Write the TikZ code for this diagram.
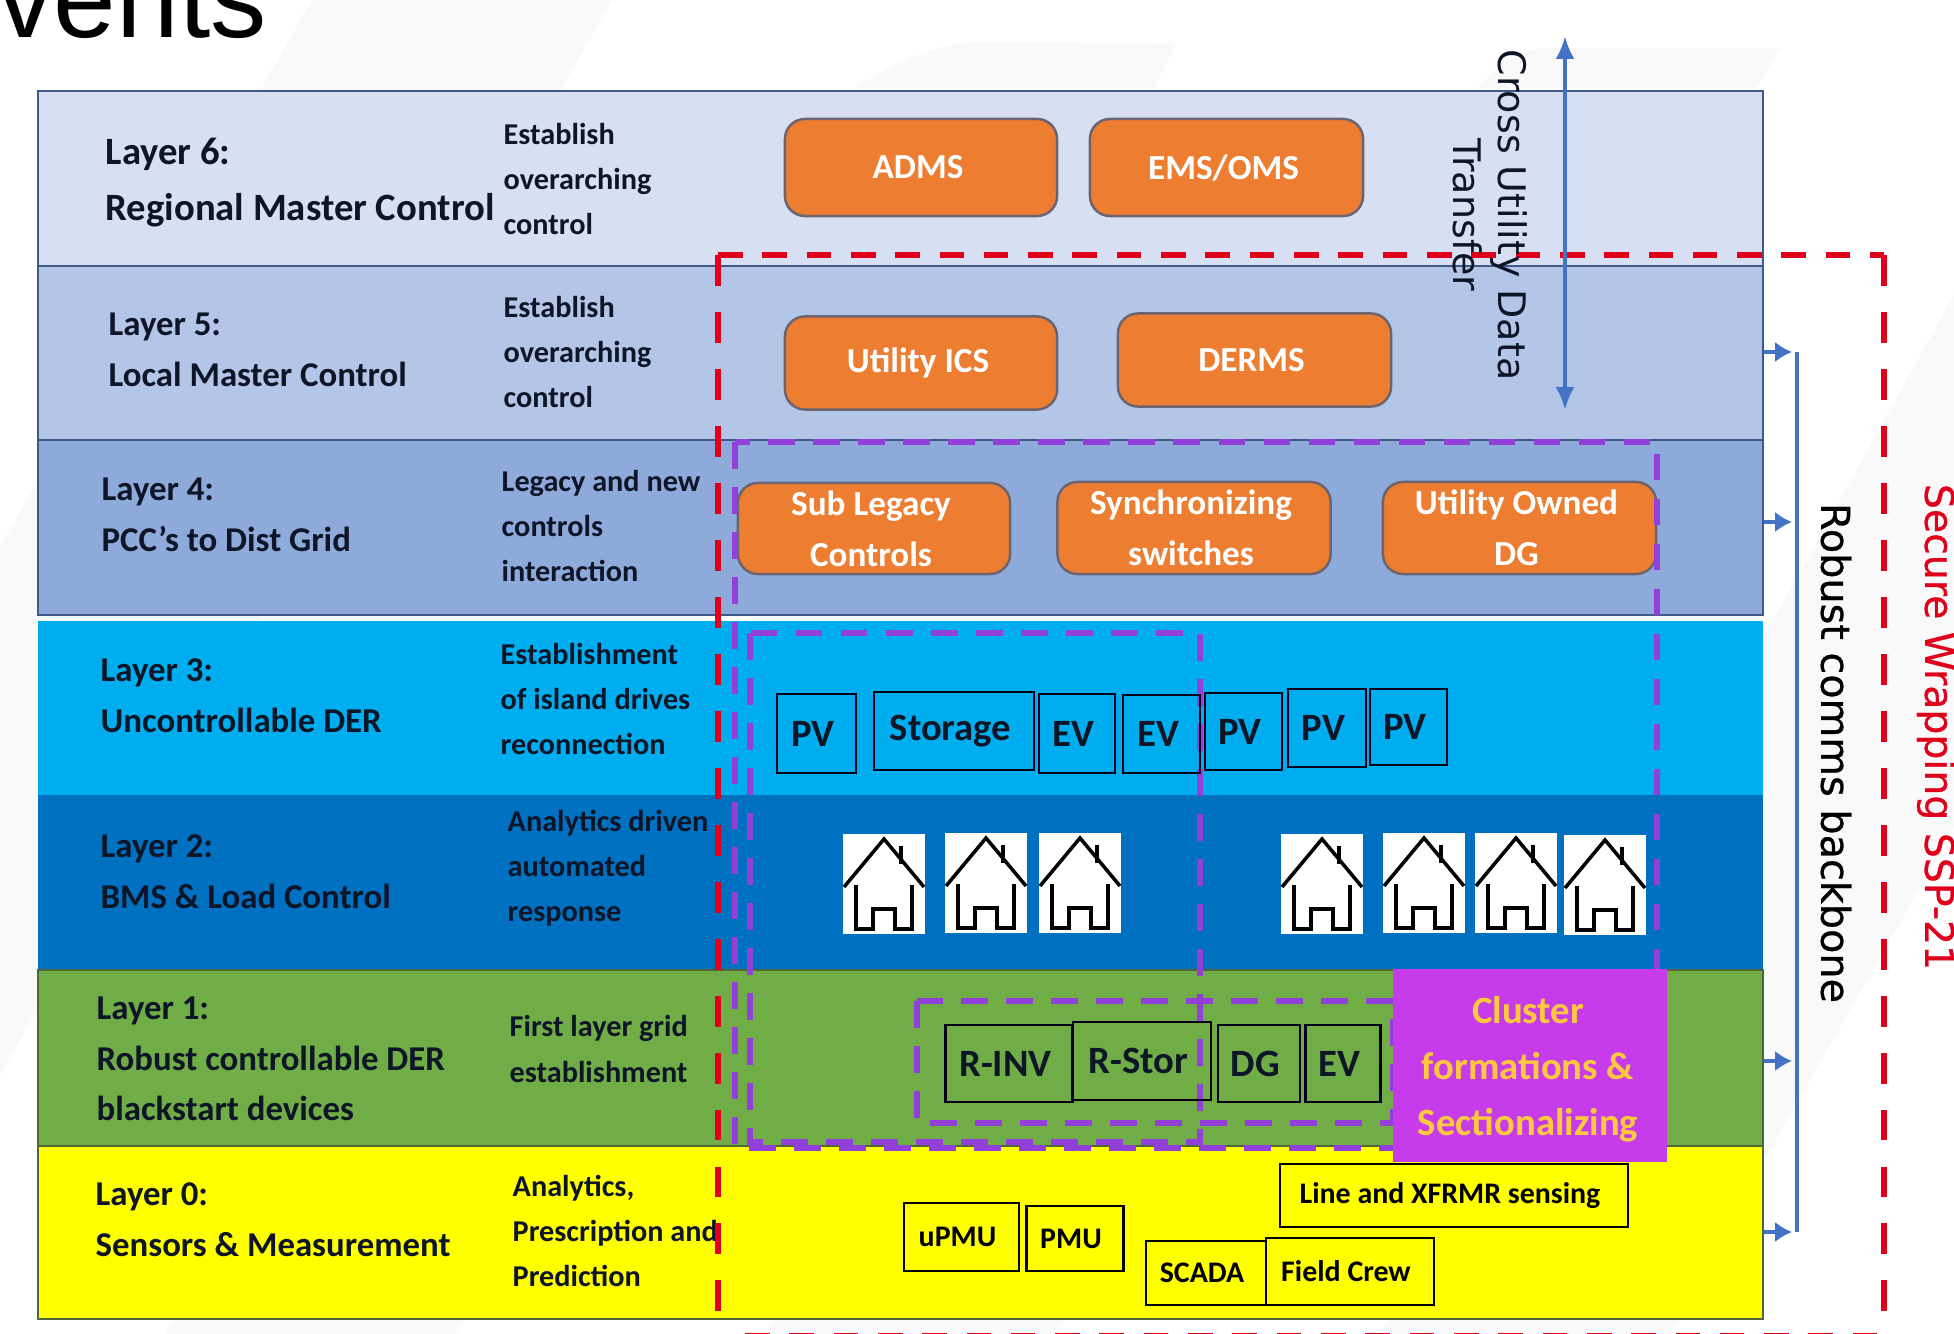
\documentclass[tikz,border=0pt]{standalone}
\usepackage{fontspec}
\setmainfont{Carlito}
\newfontfamily\dejavufont{DejaVu Sans}
\newfontfamily\dejavuheavy[FakeBold=0.7]{DejaVu Sans}
\newfontfamily\arialfont{Liberation Sans}
\usetikzlibrary{arrows.meta}
\definecolor{faintgrey}{HTML}{F9F9F9}
\definecolor{laysix}{HTML}{D7E0F3}
\definecolor{layfive}{HTML}{B4C6E7}
\definecolor{layfour}{HTML}{8EAADB}
\definecolor{laythree}{HTML}{00AEEF}
\definecolor{laytwo}{HTML}{0070C0}
\definecolor{layone}{HTML}{70AD47}
\definecolor{layzero}{HTML}{FFFF00}
\definecolor{layline}{HTML}{3F5A8A}
\definecolor{layolive}{HTML}{4F6638}
\definecolor{boxorange}{HTML}{ED7D31}
\definecolor{boxedge}{HTML}{6B6470}
\definecolor{wrapred}{HTML}{E0001B}
\definecolor{zonepurple}{HTML}{9340DB}
\definecolor{clusterfill}{HTML}{C63CEB}
\definecolor{clustertext}{HTML}{FFC83D}
\definecolor{commsblue}{HTML}{4472C4}
\definecolor{inktext}{HTML}{0D1526}

\begin{document}
\begin{tikzpicture}[x=0.01cm,y=-0.01cm]
\tikzstyle{layerbar}=[draw=layline,line width=.6pt,anchor=north west,inner sep=0,minimum width=17.24cm];
\tikzstyle{layertitle}=[anchor=west,inner sep=0,align=left,text=inktext,font=\fontsize{9.9}{14.4}\selectfont\bfseries];
\tikzstyle{layernote}=[anchor=west,inner sep=0,align=left,text=inktext,font=\fontsize{8.6}{12.8}\selectfont\bfseries];
\tikzstyle{orangebox}=[draw=boxedge,line width=.7pt,fill=boxorange,rounded corners=.2cm,inner sep=0,align=center,text=white,font=\fontsize{10}{14.4}\selectfont\bfseries,execute at end node={\hspace*{.6mm}}];
\tikzstyle{devbox}=[draw=black!90!blue,line width=.7pt,inner sep=0,text=inktext,font=\fontsize{11}{13}\selectfont\bfseries,execute at end node={\hspace*{.7mm}}];
\tikzstyle{sensebox}=[draw=black,line width=.6pt,inner sep=0,text=black,font=\fontsize{8.5}{10}\selectfont\bfseries,execute at end node={\hspace*{.8mm}}];
\tikzstyle{homebox}=[fill=white,inner sep=0,minimum width=.81cm,minimum height=1cm];
\tikzstyle{homeline}=[draw=black,line width=1pt];
\tikzstyle{wrapdash}=[draw=wrapred,line width=1.55pt,dash pattern=on 7pt off 5.6pt];
\tikzstyle{wrapside}=[draw=wrapred,line width=1.45pt,dash pattern=on 8.8pt off 7.4pt];
\tikzstyle{zonedash}=[draw=zonepurple,line width=1.6pt,dash pattern=on 7.6pt off 5.2pt];
\tikzstyle{commsarrow}=[draw=commsblue,line width=1.2pt,-{Latex[length=4.8pt,width=5.8pt]},shorten >=1.4pt];
\tikzstyle{sidelabel}=[inner sep=0,rotate=-90,align=center];

\useasboundingbox (0,0) rectangle (1954,1334);
\fill[white] (0,0) rectangle (1954,1334);
\fill[faintgrey] (312,0) -- (612,0) -- (0,1075) -- (0,547) -- cycle;
\fill[faintgrey] (855,88) .. controls (900,60) and (940,42) .. (985,42) -- (1175,44) -- (1154,88) -- cycle;
\fill[faintgrey] (1477,88) .. controls (1500,65) and (1520,48) .. (1545,48) -- (1781,48) -- (1756,88) -- cycle;
\fill[faintgrey] (1954,295) -- (1954,828) -- (1763,1162) -- (1763,638) -- cycle;
\foreach \x in {175,775,1390}
  \fill[faintgrey] (\x,1318) -- (\x+290,1318) -- (\x+280,1334) -- (\x-10,1334) -- cycle;

\node[anchor=base west,inner sep=0,font=\fontsize{32}{32}\arialfont] (pagetitle) at (-3,38) {vents};

\node[layerbar,fill=laysix,minimum height=1.75cm] (lay6) at (37,90) {};
\node[layerbar,fill=layfive,minimum height=1.74cm] (lay5) at (37,265) {};
\node[layerbar,fill=layfour,minimum height=1.75cm] (lay4) at (37,439) {};
\node[layerbar,fill=laythree,draw=none,minimum height=1.75cm] (lay3) at (37,620) {};
\node[layerbar,fill=laytwo,draw=none,minimum height=1.75cm] (lay2) at (37,794) {};
\node[layerbar,fill=layone,draw=layolive,minimum height=1.76cm] (lay1) at (37,969) {};
\node[layerbar,fill=layzero,draw=layolive,minimum height=1.73cm] (lay0) at (37,1145) {};

\node[layertitle,font=\fontsize{11}{15.9}\selectfont\bfseries] (title6) at (105,183) {Layer 6:\\Regional Master Control};
\node[layertitle] (title5) at (108,350) {Layer 5:\\Local Master Control};
\node[layertitle] (title4) at (101,515) {Layer 4:\\PCC’s to Dist Grid};
\node[layertitle] (title3) at (100,696) {Layer 3:\\Uncontrollable DER};
\node[layertitle] (title2) at (100,872) {Layer 2:\\BMS \& Load Control};
\node[layertitle] (title1) at (96,1059) {Layer 1:\\Robust controllable DER\\blackstart devices};
\node[layertitle] (title0) at (95,1220) {Layer 0:\\Sensors \& Measurement};

\node[layernote] (note6) at (503,179) {Establish\\overarching\\control};
\node[layernote] (note5) at (503,352) {Establish\\overarching\\control};
\node[layernote] (note4) at (501,526) {Legacy and new\\controls\\interaction};
\node[layernote] (note3) at (500,699) {Establishment\\of island drives\\reconnection};
\node[layernote] (note2) at (507,868) {Analytics driven\\automated\\response};
\node[layernote] (note1) at (509,1049) {First layer grid\\establishment};
\node[layernote] (note0) at (512,1231) {Analytics,\\Prescription and\\Prediction};

\foreach \name/\x/\y/\w/\h/\lab in {adms/921/167.5/2.72/.97/ADMS,emsoms/1226.5/167.5/2.73/.97/{EMS/OMS},
  utilityics/921/363/2.72/.93/Utility ICS,derms/1254.5/360/2.73/.93/DERMS,
  sublegacy/874/528.5/2.72/.91/{Sub Legacy\\Controls},syncsw/1194/528/2.73/.92/{Synchronizing\\switches},
  ownedg/1519.5/528/2.73/.92/{Utility Owned\\DG}}
  \node[orangebox,minimum width=\w cm,minimum height=\h cm] (\name) at (\x,\y) {\lab};

\coordinate (wraptl) at (718,255);
\coordinate (wraptr) at (1884,255);
\coordinate (wrapbl) at (718,1334);
\coordinate (wrapbr) at (1884,1336);
\draw[wrapdash] (wraptl) -- (wraptr);
\draw[wrapside] (wraptl) -- (wrapbl);
\draw[wrapside] (wraptr) -- (wrapbr);
\draw[wrapdash] (745,1336) -- (wrapbr);

\coordinate (zonea1) at (735,442);
\coordinate (zonea2) at (1657,1148);
\coordinate (zoneb1) at (750,633);
\coordinate (zoneb2) at (1200,1142);
\coordinate (zonec1) at (917,1001);
\coordinate (zonec2) at (1393,1123);
\draw[zonedash] (zonea1) rectangle (zonea2);
\draw[zonedash] (zoneb1) rectangle (zoneb2);
\draw[zonedash] (zonec1) rectangle (zonec2);

\foreach \name/\x/\y/\w/\h/\lab in {pvone/816.5/733.5/.79/.79/PV,storage/954/731/1.60/.78/Storage,
  evone/1077/733.5/.76/.79/EV,evtwo/1161.5/734/.77/.78/EV,pvtwo/1243.5/731.5/.77/.77/PV,
  pvthree/1327/728/.78/.78/PV,pvfour/1408.5/727/.77/.76/PV,
  rinv/1009/1063.5/1.27/.77/R-INV,rstor/1142/1061/1.38/.78/R-Stor,dg/1259/1063.5/.82/.77/DG,ev/1343/1063.5/.75/.77/EV}
  \node[devbox,minimum width=\w cm,minimum height=\h cm] (\name) at (\x,\y) {\lab};

\foreach \name/\x/\y/\w/\h/\lab in {upmu/961.5/1237/1.15/.68/uPMU,pmu/1075/1238.5/.97/.65/PMU,
  scada/1206/1273/1.20/.64/SCADA,fieldcrew/1350/1271.5/1.68/.67/Field Crew,
  xfrmr/1454/1195.5/3.48/.63/Line and XFRMR sensing}
  \node[sensebox,minimum width=\w cm,minimum height=\h cm] (\name) at (\x,\y) {\lab};

\foreach \i/\x/\y in {1/884/884,2/986/883,3/1080/883,4/1322/884,5/1424/883,6/1516/883,7/1605/885}{
  \node[homebox] (home\i) at (\x,\y) {};
  \begin{scope}[shift={(\x,\y)}]
    \draw[homeline] (-40,3) -- (0,-45) -- (40,3);
    \draw[homeline] (17,-38) -- (17,-20);
    \draw[homeline] (-28,1) -- (-28,45) -- (-11,45) -- (-11,25) -- (11,25) -- (11,45) -- (28,45) -- (28,1);
  \end{scope}
}

\node[fill=clusterfill,inner sep=0,minimum width=2.74cm,minimum height=1.93cm] (cluster) at (1530,1065.5) {};
\node[inner sep=0,align=center,text=clustertext,font=\fontsize{11}{16}\selectfont\bfseries] (clusterlabel) at (1528,1069) {Cluster\\formations \&\\Sectionalizing};

\coordinate (crosstop) at (1565,36);
\coordinate (crossend) at (1565,410);
\draw [commsblue,line width=1.2pt,{Latex[length=6.5pt,width=5.4pt]}-{Latex[length=6.5pt,width=5.4pt]}] (crosstop) -- (crossend);
\node[sidelabel,text=inktext,font=\fontsize{10.8}{12.7}\dejavufont] (crosslabel) at (1490,215) {Cross Utility Data\\Transfer};

\coordinate (bus5) at (1797,352);
\coordinate (bus4) at (1797,522);
\coordinate (bus1) at (1797,1061);
\coordinate (bus0) at (1797,1232);
\draw [commsarrow] (lay5.east |- bus5) -- (bus5);
\draw [commsarrow] (lay4.east |- bus4) -- (bus4);
\draw [commsarrow] (lay1.east |- bus1) -- (bus1);
\draw [commsarrow] (lay0.east |- bus0) -- (bus0);
\draw [commsblue,line width=1.4pt] (bus5) -- (bus0);
\node[sidelabel,text=black,font=\fontsize{11.3}{13}\dejavuheavy] (commslabel) at (1836,753) {Robust comms backbone};
\node[sidelabel,text=wrapred,font=\fontsize{11.2}{13}\dejavuheavy] (wraplabel) at (1936,727) {Secure Wrapping SSP-21};
\end{tikzpicture}
\end{document}
